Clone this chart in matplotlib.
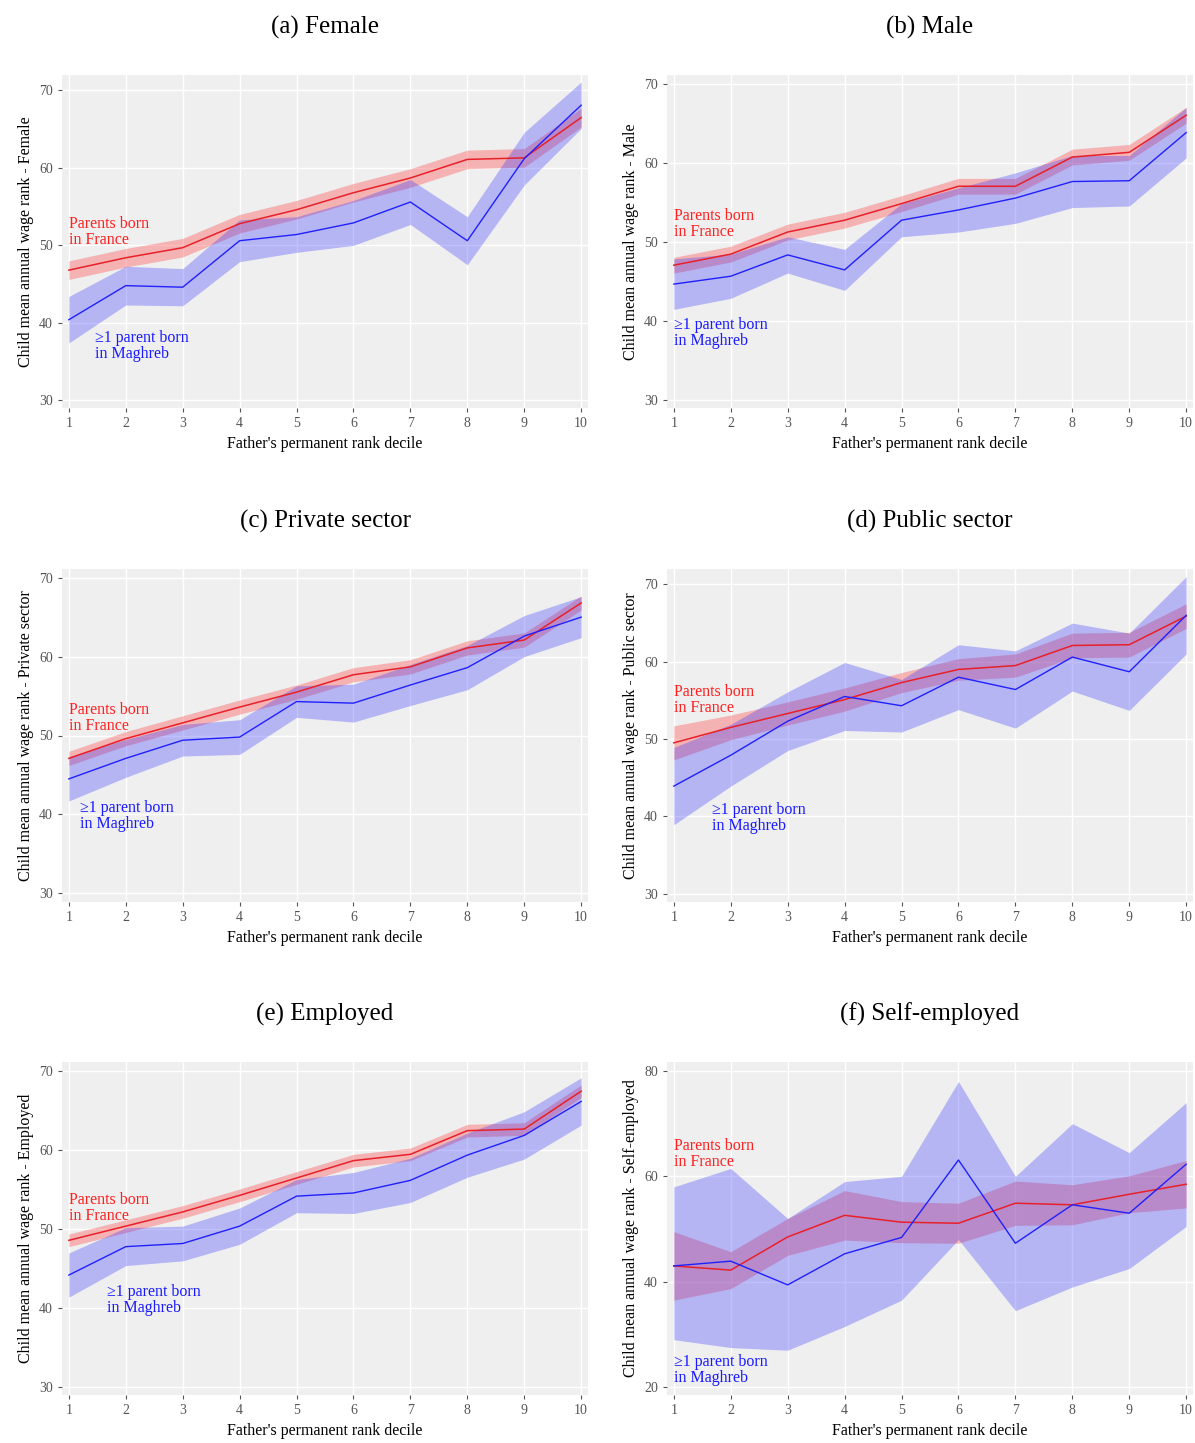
import matplotlib
matplotlib.use("Agg")
import matplotlib.pyplot as plt
import numpy as np

deciles = list(range(1, 11))

titles = ["(a) Female", "(b) Male", "(c) Private sector", "(d) Public sector", "(e) Employed", "(f) Self-employed"]
ylabels = ["Female", "Male", "Private sector", "Public sector", "Employed", "Self-employed"]

fr_a = [46.8, 48.4, 49.7, 52.8, 54.6, 56.8, 58.7, 61.1, 61.3, 66.5]
fr_a_ci = [1.2] * 10
mg_a = [40.4, 44.8, 44.6, 50.6, 51.4, 52.9, 55.6, 50.6, 61.2, 68.1]
mg_a_ci = [3.0, 2.5, 2.4, 2.7, 2.3, 2.9, 2.9, 3.1, 3.4, 3.0]

fr_b = [47.1, 48.5, 51.3, 52.8, 54.9, 57.1, 57.1, 60.8, 61.4, 66.1]
fr_b_ci = [1.0] * 10
mg_b = [44.7, 45.7, 48.4, 46.5, 52.8, 54.1, 55.6, 57.7, 57.8, 63.9]
mg_b_ci = [3.2, 2.8, 2.3, 2.6, 2.1, 2.8, 3.2, 3.3, 3.2, 3.2]

fr_c = [47.1, 49.6, 51.6, 53.6, 55.5, 57.7, 58.7, 61.1, 62.1, 66.8]
fr_c_ci = [0.9] * 10
mg_c = [44.5, 47.1, 49.4, 49.8, 54.3, 54.1, 56.4, 58.6, 62.6, 65.0]
mg_c_ci = [2.8, 2.4, 2.0, 2.2, 2.0, 2.4, 2.6, 2.8, 2.6, 2.6]

fr_d = [49.5, 51.5, 53.3, 55.1, 57.3, 59.0, 59.5, 62.1, 62.2, 65.9]
fr_d_ci = [2.2, 1.6, 1.5, 1.5, 1.3, 1.4, 1.5, 1.6, 1.6, 1.6]
mg_d = [43.9, 47.9, 52.3, 55.5, 54.3, 58.0, 56.4, 60.6, 58.7, 66.0]
mg_d_ci = [5.0, 4.0, 3.8, 4.4, 3.4, 4.2, 5.0, 4.4, 5.0, 5.0]

fr_e = [48.6, 50.4, 52.2, 54.3, 56.5, 58.7, 59.5, 62.5, 62.7, 67.5]
fr_e_ci = [0.8] * 10
mg_e = [44.2, 47.8, 48.2, 50.4, 54.2, 54.6, 56.2, 59.4, 61.9, 66.2]
mg_e_ci = [2.8, 2.4, 2.2, 2.3, 2.1, 2.6, 2.8, 2.8, 3.0, 3.0]

fr_f = [43.0, 42.2, 48.5, 52.6, 51.3, 51.1, 54.9, 54.6, 56.6, 58.5]
fr_f_ci = [6.5, 3.5, 3.5, 4.7, 3.9, 3.8, 4.2, 3.8, 3.5, 4.5]
mg_f = [43.0, 43.9, 39.4, 45.3, 48.4, 63.1, 47.3, 54.6, 53.0, 62.3]
mg_f_lo = [29.0, 27.5, 27.0, 31.5, 36.5, 48.0, 34.5, 39.0, 42.5, 50.5]
mg_f_hi = [58.0, 61.5, 52.0, 59.0, 60.0, 78.0, 60.0, 70.0, 64.5, 74.0]

def band(v, c):
    v = np.array(v); c = np.array(c)
    return v - c, v + c

panels = [
    (fr_a, band(fr_a, fr_a_ci), mg_a, band(mg_a, mg_a_ci)),
    (fr_b, band(fr_b, fr_b_ci), mg_b, band(mg_b, mg_b_ci)),
    (fr_c, band(fr_c, fr_c_ci), mg_c, band(mg_c, mg_c_ci)),
    (fr_d, band(fr_d, fr_d_ci), mg_d, band(mg_d, mg_d_ci)),
    (fr_e, band(fr_e, fr_e_ci), mg_e, band(mg_e, mg_e_ci)),
    (fr_f, band(fr_f, fr_f_ci), mg_f, (np.array(mg_f_lo), np.array(mg_f_hi))),
]

ylims = [(29, 72), (29, 71.2), (28.9, 71.1), (28.9, 72), (29, 71.2), (18.5, 81.7)]
yticks = [[30, 40, 50, 60, 70]] * 5 + [[20, 40, 60, 80]]
fr_txt = [(1.0, 51.7), (1.0, 52.3), (1.0, 52.2), (1.0, 55.0), (1.0, 52.7), (1.0, 64.2)]
mg_txt = [(1.46, 37.0), (1.0, 38.5), (1.2, 39.8), (1.67, 39.8), (1.67, 41.0), (1.0, 23.2)]

SERIF = "Liberation Serif"
W, H = 1195, 1443
fig = plt.figure(figsize=(W / 100, H / 100), dpi=100)
lefts = [62, 667]
tops = [75, 569, 1062]
aw, ah = 526, 333

for i, (fr, frb, mg, mgb) in enumerate(panels):
    r, c = divmod(i, 2)
    ax = fig.add_axes([lefts[c] / W, 1 - (tops[r] + ah) / H, aw / W, ah / H])
    ax.set_facecolor("#efefef")
    for s in ax.spines.values():
        s.set_visible(False)
    ax.grid(True, color="white", linewidth=1.0)
    ax.set_axisbelow(True)
    ax.fill_between(deciles, frb[0], frb[1], color="#ff4040", alpha=0.35, linewidth=0)
    ax.fill_between(deciles, mgb[0], mgb[1], color="#3030ff", alpha=0.3, linewidth=0)
    ax.plot(deciles, fr, color="#e8202a", linewidth=1.1)
    ax.plot(deciles, mg, color="#2020ff", linewidth=1.0)
    ax.set_xlim(0.88, 10.12)
    ax.set_ylim(*ylims[i])
    ax.set_xticks(deciles)
    ax.set_yticks(yticks[i])
    ax.tick_params(labelsize=10, colors="#555555", length=3, labelcolor="#555555")
    for lab in ax.get_xticklabels() + ax.get_yticklabels():
        lab.set_family(SERIF)
    ax.set_xlabel("Father's permanent rank decile", fontsize=11.5, family=SERIF)
    ax.set_ylabel("Child mean annual wage rank - " + ylabels[i], fontsize=11.5, family=SERIF)
    ax.set_title(titles[i], fontsize=18, family=SERIF, pad=30)
    ax.text(fr_txt[i][0], fr_txt[i][1], "Parents born\nin France", color="#ff2020",
            fontsize=11.5, family=SERIF, va="center", ha="left", linespacing=1.0)
    ax.text(mg_txt[i][0], mg_txt[i][1], "≥1 parent born\nin Maghreb", color="#1a1aff",
            fontsize=11.5, family=[SERIF, "DejaVu Serif"], va="center", ha="left", linespacing=1.0)

fig.savefig("out.png", dpi=100, facecolor="white")
